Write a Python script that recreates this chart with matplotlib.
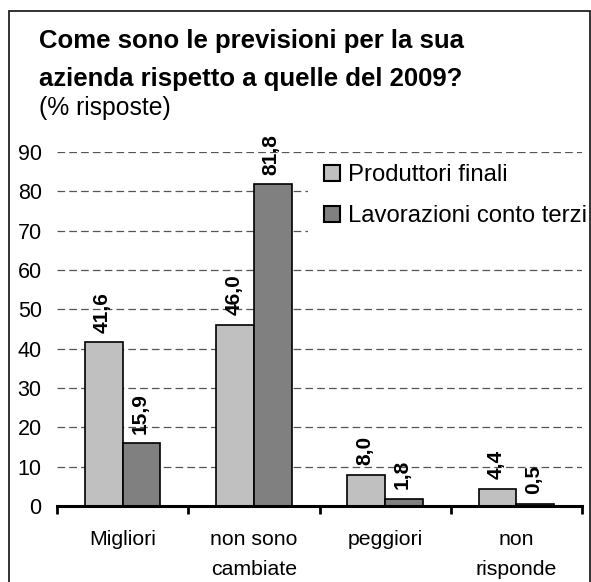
import matplotlib
matplotlib.use("Agg")
import matplotlib.pyplot as plt
import matplotlib.patches as mpatches
import numpy as np

plt.rcParams['font.family'] = ['Liberation Sans', 'DejaVu Sans']
plt.rcParams['lines.scale_dashes'] = False

categories = ["Migliori", "non sono\ncambiate", "peggiori", "non\nrisponde"]
series_names = ["Produttori finali", "Lavorazioni conto terzi"]
produttori = [41.6, 46.0, 8.0, 4.4]
lavorazioni = [15.9, 81.8, 1.8, 0.5]
yticks = [0, 10, 20, 30, 40, 50, 60, 70, 80, 90]
colors = ["#c0c0c0", "#808080"]

W, H = 591, 582
fig = plt.figure(figsize=(W / 100, H / 100), dpi=100)
ax = fig.add_axes([57 / W, 1 - 506 / H, (582 - 57) / W, (506 - 152) / H])

x = np.arange(len(categories))
bw = 0.287
vals = [produttori, lavorazioni]
for i, (name, v) in enumerate(zip(series_names, vals)):
    pos = x + (i - 0.5) * bw
    bars = ax.bar(pos, v, width=bw, color=colors[i], edgecolor="black",
                  linewidth=1.2, label=name, zorder=3)
    for b, val in zip(bars, v):
        ax.annotate(f"{val:.1f}".replace(".", ","),
                    (b.get_x() + b.get_width() / 2, b.get_height()),
                    xytext=(-1, 7), textcoords="offset points",
                    rotation=90, ha="center", va="bottom",
                    fontsize=15, fontweight="bold", zorder=4)

ax.set_xlim(-0.5, len(categories) - 0.5)
ax.set_ylim(0, 90)
ax.set_yticks(yticks)
ax.set_yticklabels([str(t) for t in yticks], fontsize=15.5)
ax.tick_params(axis="y", length=0, pad=11)
ax.set_xticks(x)
ax.set_xticklabels(categories, fontsize=15.3, linespacing=1.74, va="top")
ax.tick_params(axis="x", which="major", length=0, pad=17)
ax.set_xticks(np.arange(-0.5, len(categories), 1), minor=True)
ax.tick_params(axis="x", which="minor", length=6, width=2, direction="out")

for s in ["left", "right", "top"]:
    ax.spines[s].set_visible(False)
ax.spines["bottom"].set_linewidth(2.2)
ax.spines["bottom"].set_zorder(5)

ax.yaxis.grid(True, color="#555555", linewidth=0.9, linestyle=(0, (5.5, 3)), zorder=1)
ax.set_axisbelow(True)

# white legend area hiding the gridlines behind the legend
ax.add_patch(mpatches.Rectangle(((308 - 57) / 525, (506 - 245) / 354),
                                1 - (308 - 57) / 525, (245 - 160) / 354,
                                transform=ax.transAxes, facecolor="white",
                                edgecolor="none", zorder=1.5))

leg = ax.legend(loc="upper left", bbox_to_anchor=(324 / W, 1 - 164 / H),
                bbox_transform=fig.transFigure,
                frameon=False, fontsize=17.2, handlelength=0.65, handleheight=0.65,
                handletextpad=0.35, labelspacing=0.8, borderaxespad=0,
                borderpad=0)
for p in leg.get_patches():
    p.set_linewidth(1.5)

fig.text(39 / W, 1 - 48 / H, "Come sono le previsioni per la sua", fontsize=18.5,
         fontweight="bold", ha="left", va="baseline")
fig.text(39 / W, 1 - 86 / H, "azienda rispetto a quelle del 2009?", fontsize=18.5,
         fontweight="bold", ha="left", va="baseline")
fig.text(39 / W, 1 - 115 / H, "(% risposte)", fontsize=17.8, ha="left", va="baseline")

border = mpatches.Rectangle((8.5 / W, -0.05), (590 - 8.5) / W, 1.05 - 10.5 / H,
                            transform=fig.transFigure, fill=False,
                            edgecolor="#222222", linewidth=1.3)
fig.patches.append(border)

fig.savefig("out.png", dpi=100)
